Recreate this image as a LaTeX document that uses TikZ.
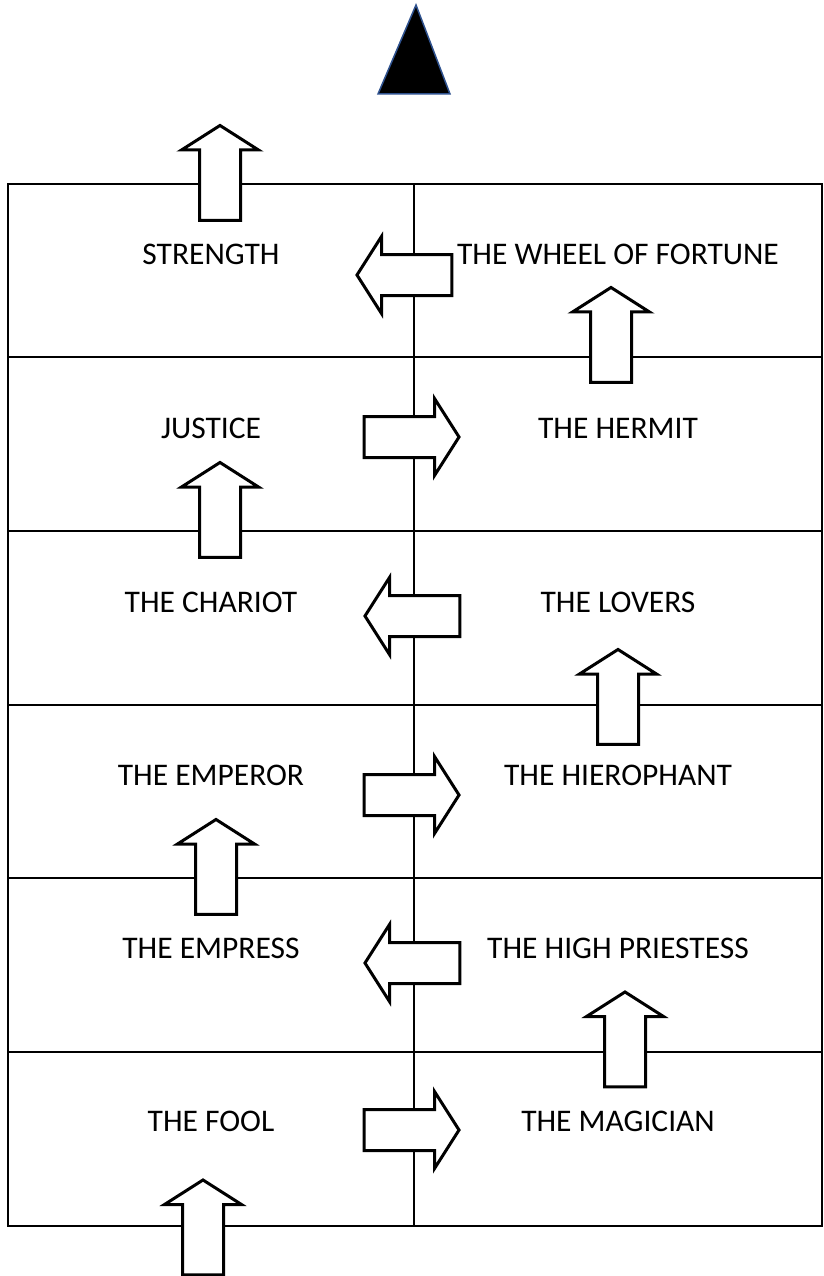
\documentclass[tikz,border=0pt]{standalone}
\usepackage{fontspec}
\setmainfont{Carlito}
\usetikzlibrary{shapes.arrows}
\definecolor{tipblue}{RGB}{47,82,143}
\tikzset{
  blockarrow/.style={single arrow, draw, fill=white, line width=3pt, inner sep=19pt,
    minimum height=95pt, single arrow head extend=18pt,
    single arrow tip angle=115},
  goup/.style={blockarrow, shape border rotate=90},
  goleft/.style={blockarrow, shape border rotate=180},
  goright/.style={blockarrow},
  card/.style={font=\fontsize{31.5}{36}\selectfont}
}

\begin{document}
\begin{tikzpicture}[x=1pt, y=-1pt]
		\useasboundingbox (0,0) rectangle (823,1276);
		% target on top
		\filldraw [fill=black, draw=tipblue, line width=1.5pt] (378,94) -- (416,5) -- (450,94) -- cycle;
		
		% the grid
		\draw [line width=2pt] (8,184) rectangle (822,1226);
		\draw [line width=2pt] (414,184) -- (414,1226);
		\foreach \y in {357,531,705,878,1052}
			\draw [line width=2pt] (8,\y) -- (822,\y);
		
		% cards
		\node [card] (strength) at (211,254) {STRENGTH};
		\node [card] (wheel) at (618,254) {THE WHEEL OF FORTUNE};
		\node [card] (justice) at (211,428) {JUSTICE};
		\node [card] (hermit) at (618,428) {THE HERMIT};
		\node [card] (chariot) at (211,602) {THE CHARIOT};
		\node [card] (lovers) at (618,602) {THE LOVERS};
		\node [card] (emperor) at (211,775) {THE EMPEROR};
		\node [card] (hierophant) at (618,775) {THE HIEROPHANT};
		\node [card] (empress) at (211,948) {THE EMPRESS};
		\node [card] (priestess) at (618,948) {THE HIGH PRIESTESS};
		\node [card] (fool) at (211,1121) {THE FOOL};
		\node [card] (magician) at (618,1121) {THE MAGICIAN};
		
		% the path
		\node [goup] (start) at (203,1234) {};
		\node [goright] (fool-magician) at (405,1130) {};
		\node [goup] (magician-priestess) at (625,1046) {};
		\node [goleft] (priestess-empress) at (419,963) {};
		\node [goup] (empress-emperor) at (216,873.5) {};
		\node [goright] (emperor-hierophant) at (405,795) {};
		\node [goup] (hierophant-lovers) at (618,703.5) {};
		\node [goleft] (lovers-chariot) at (419,616) {};
		\node [goup] (chariot-justice) at (220,516.5) {};
		\node [goright] (justice-hermit) at (405,437) {};
		\node [goup] (hermit-wheel) at (611,341.5) {};
		\node [goleft] (wheel-strength) at (411,275) {};
		\node [goup] (strength-out) at (220,179.5) {};
	\end{tikzpicture}
\end{document}
